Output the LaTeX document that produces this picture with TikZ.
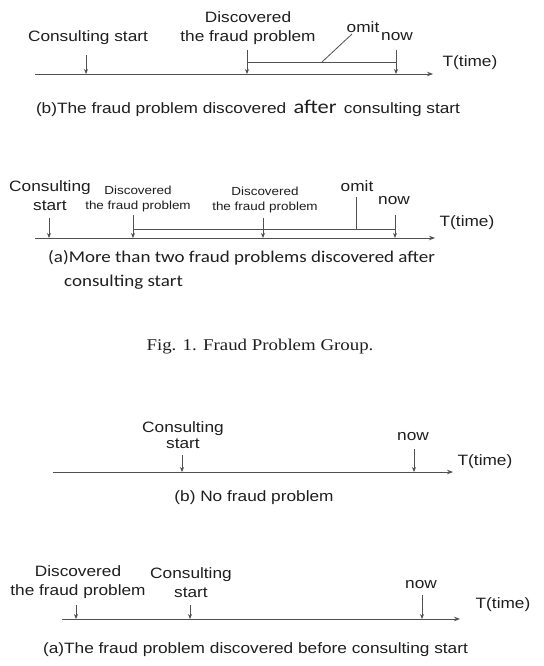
\documentclass[tikz,border=0pt]{standalone}
\usepackage{fontspec}
\setmainfont{Liberation Sans}[FakeStretch=1.15]
\newfontfamily\calfont{Carlito}[FakeStretch=1.15]
\newfontfamily\serfont{Liberation Serif}[FakeStretch=1.15]
\usetikzlibrary{arrows.meta}
\definecolor{linec}{HTML}{505050}
\definecolor{txtc}{HTML}{1E1E1E}
\newcommand\lblfont{\fontsize{15}{19}\selectfont}
\newcommand\smlfont{\fontsize{11.7}{15}\selectfont}
\tikzset{
  lbl/.style={font=\lblfont, align=center, inner sep=0pt, text=txtc},
  sml/.style={font=\smlfont, align=center, inner sep=0pt, text=txtc},
  tick/.style={draw=linec, line width=0.8pt, -{Stealth[length=5pt,width=4pt]}},
  axisline/.style={draw=linec, line width=0.9pt, -{Stealth[length=6pt,width=4.5pt]}},
  plain/.style={draw=linec, line width=0.8pt},
  capt/.style={font=\lblfont, inner sep=0pt, text=txtc}
}
\begin{document}
\begin{tikzpicture}[x=1pt,y=-1pt]
\useasboundingbox (0,0) rectangle (543,666);
\fill[white] (0,0) rectangle (543,666);

% ---------- panel 1 ----------
\coordinate (s1) at (35,74);
\coordinate (e1) at (433,74);
\draw[axisline] (s1) -- (e1);
\node[lbl] (c1) at (88,38) {Consulting start};
\coordinate (c1a) at (86,74);
\draw[tick] ([yshift=19pt]c1a) -- (c1a);
\node[lbl] (d1) at (248,28) {Discovered\\the fraud problem};
\coordinate (d1a) at (247,74);
\draw[tick] ([yshift=24pt]d1a) -- (d1a);
\node[lbl] (n1) at (397,37) {now};
\coordinate (n1a) at (396,74);
\draw[tick] ([yshift=24pt]n1a) -- (n1a);
\coordinate (b1s) at (247,62);
\coordinate (b1e) at (396,62);
\draw[plain] (b1s) -- (b1e);
\node[lbl] (o1) at (363,27) {omit};
\coordinate (o1a) at (322,62);
\draw[plain] (352,34) -- (o1a);
\node[lbl] (t1) at (470,63) {T(time)};
\node[capt] (cap1) at (248,108) {(b)The fraud problem discovered \,{\calfont\fontsize{19.5}{22}\selectfont after}\, consulting start};

% ---------- panel 2 ----------
\coordinate (s2) at (35,238);
\coordinate (e2) at (435,238);
\draw[axisline] (s2) -- (e2);
\node[lbl] (c2) at (50,196) {Consulting\\start};
\coordinate (c2a) at (49,238);
\draw[tick] ([yshift=20pt]c2a) -- (c2a);
\node[sml] (d2a) at (138,199) {Discovered\\the fraud problem};
\coordinate (d2aa) at (133,238);
\draw[tick] ([yshift=23pt]d2aa) -- (d2aa);
\node[sml] (d2b) at (265,200) {Discovered\\the fraud problem};
\coordinate (d2ba) at (263,238);
\draw[tick] ([yshift=20pt]d2ba) -- (d2ba);
\coordinate (b2s) at (133,229);
\coordinate (b2e) at (395,229);
\draw[plain] (b2s) -- (b2e);
\node[lbl] (o2) at (357,186) {omit};
\coordinate (o2a) at (356,229);
\draw[plain] (356,197) -- (o2a);
\node[lbl] (n2) at (394,201) {now};
\coordinate (n2a) at (395,238);
\draw[tick] ([yshift=23pt]n2a) -- (n2a);
\node[lbl] (t2) at (467,223) {T(time)};
\node[capt, font=\calfont\fontsize{16.5}{24}\selectfont, align=left, anchor=north west] (cap2) at (48,250)
  {(a)More than two fraud problems discovered after\\\hspace*{16pt}consulting start};

% ---------- figure caption ----------
\node[inner sep=0pt, text=txtc, font=\serfont\fontsize{16.4}{19}\selectfont] (fig) at (260,347) {Fig. 1. Fraud Problem Group.};

% ---------- panel 3 ----------
\coordinate (s3) at (53,472);
\coordinate (e3) at (453,472);
\draw[axisline] (s3) -- (e3);
\node[lbl, font=\fontsize{15}{16.5}\selectfont] (c3) at (183,435) {Consulting\\start};
\coordinate (c3a) at (182,472);
\draw[tick] ([yshift=17pt]c3a) -- (c3a);
\node[lbl] (n3) at (413,437) {now};
\coordinate (n3a) at (414,472);
\draw[tick] ([yshift=23pt]n3a) -- (n3a);
\node[lbl] (t3) at (485,462) {T(time)};
\node[capt] (cap3) at (254,498) {(b) No fraud problem};

% ---------- panel 4 ----------
\coordinate (s4) at (62,619);
\coordinate (e4) at (460,619);
\draw[axisline] (s4) -- (e4);
\node[lbl] (d4) at (78,582.5) {Discovered\\the fraud problem};
\coordinate (d4a) at (76,619);
\draw[tick] ([yshift=14pt]d4a) -- (d4a);
\node[lbl] (c4) at (191,582.5) {Consulting\\start};
\coordinate (c4a) at (190,619);
\draw[tick] ([yshift=14pt]c4a) -- (c4a);
\node[lbl] (n4) at (421,585) {now};
\coordinate (n4a) at (422,619);
\draw[tick] ([yshift=24pt]n4a) -- (n4a);
\node[lbl] (t4) at (503,605) {T(time)};
\node[capt] (cap4) at (255.5,650) {(a)The fraud problem discovered before consulting start};
\end{tikzpicture}
\end{document}
